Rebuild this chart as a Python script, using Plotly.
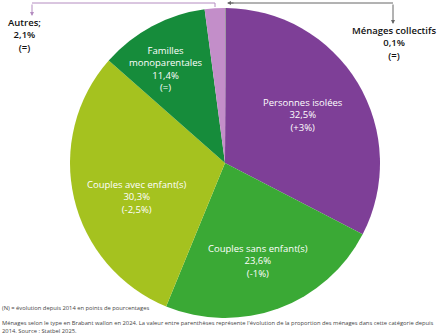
import plotly.graph_objects as go

# ---- data ----
categories = ["Ménages collectifs", "Personnes isolées", "Couples sans enfant(s)",
              "Couples avec enfant(s)", "Familles monoparentales", "Autres"]
display_labels = ["Ménages collectifs", "Personnes isolées", "Couples sans enfant(s)",
                  "Couples avec enfant(s)", "Familles<br>monoparentales", "Autres;"]
shares = [0.1, 32.5, 23.6, 30.3, 11.4, 2.1]
changes = ["=", "+3%", "-1%", "-2,5%", "=", "="]
colors = ["#9a9a9a", "#7e3f97", "#3aa935", "#a5c21f", "#168c3b", "#c38ec9"]

footnote1 = "(N) = évolution depuis 2014 en points de pourcentages"
footnote2 = ("Ménages selon le type en Brabant wallon en 2024. La valeur entre parenthèses représente "
             "l'évolution de la proportion des ménages dans cette catégorie depuis<br>2014. Source : Statbel 2025.")

W, H = 448, 336
def px(x): return x / W
def py(y): return 1 - y / H

def fmt(v):
    return f"{v:.1f}".replace(".", ",") + "%"

def label_text(i):
    return f"{display_labels[i]}<br>{fmt(shares[i])}<br>({changes[i]})"

fig = go.Figure(go.Pie(
    labels=categories, values=shares, sort=False, direction="clockwise", rotation=0,
    marker=dict(colors=colors, line=dict(width=0)),
    textinfo="none", hoverinfo="label+percent", showlegend=False,
    domain=dict(x=[px(70), px(380)], y=[py(318), py(8)]),
))

FONT = "Open Sans"
annotations = []
# inside labels (white) : index -> pixel centre of label block
inside_pos = {1: (303, 115), 2: (258, 261), 3: (137, 197), 4: (166, 69)}
for i, (x, y) in inside_pos.items():
    annotations.append(dict(x=px(x), y=py(y), xref="paper", yref="paper",
                            text=label_text(i), showarrow=False,
                            font=dict(family=FONT, size=9.5, color="white"),
                            xanchor="center", yanchor="middle", align="center"))
# outside labels
annotations.append(dict(x=px(24), y=py(35), xref="paper", yref="paper",
                        text=label_text(5), showarrow=False,
                        font=dict(family=FONT, size=9.5, color="#111", weight=600),
                        xanchor="center", yanchor="middle", align="center"))
annotations.append(dict(x=px(394), y=py(43), xref="paper", yref="paper",
                        text=label_text(0), showarrow=False,
                        font=dict(family=FONT, size=9.5, color="#111", weight=600),
                        xanchor="center", yanchor="middle", align="center"))
# arrows
annotations.append(dict(x=px(32), y=py(16), xref="paper", yref="paper", text="",
                        showarrow=True, ax=0, ay=-13, arrowhead=2, arrowsize=0.8,
                        arrowwidth=1, arrowcolor="#b48cc0"))
annotations.append(dict(x=px(393), y=py(24), xref="paper", yref="paper", text="",
                        showarrow=True, ax=0, ay=-21, arrowhead=2, arrowsize=0.8,
                        arrowwidth=1, arrowcolor="#666"))
annotations.append(dict(x=px(227), y=py(3), xref="paper", yref="paper", text="",
                        showarrow=True, ax=8, ay=0, arrowhead=2, arrowsize=0.8,
                        arrowwidth=1, arrowcolor="#666"))
# footnotes
annotations.append(dict(x=0, y=py(308), xref="paper", yref="paper", text=footnote1,
                        showarrow=False, xanchor="left", yanchor="middle", align="left",
                        font=dict(family=FONT, size=5.8, color="#444")))
annotations.append(dict(x=0, y=py(327), xref="paper", yref="paper", text=footnote2,
                        showarrow=False, xanchor="left", yanchor="middle", align="left",
                        font=dict(family=FONT, size=5.8, color="#444")))

shapes = [
    dict(type="line", xref="paper", yref="paper", x0=px(32), y0=py(3), x1=px(215), y1=py(3),
         line=dict(color="#b48cc0", width=1)),
    dict(type="line", xref="paper", yref="paper", x0=px(215), y0=py(3), x1=px(215), y1=py(7),
         line=dict(color="#b48cc0", width=1)),
    dict(type="line", xref="paper", yref="paper", x0=px(230), y0=py(3), x1=px(393), y1=py(3),
         line=dict(color="#666", width=1)),
]

fig.update_layout(width=W, height=H, margin=dict(l=0, r=0, t=0, b=0),
                  paper_bgcolor="white", plot_bgcolor="white",
                  annotations=annotations, shapes=shapes)
fig.write_html("out.html")
